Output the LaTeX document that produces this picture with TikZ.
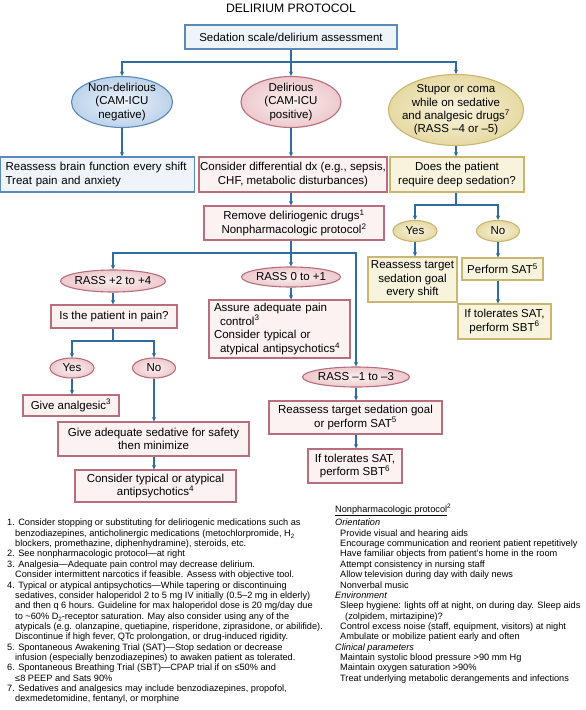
\documentclass[tikz,border=0pt]{standalone}
\usepackage{fontspec}
\setmainfont{Liberation Sans}
\usetikzlibrary{arrows.meta,shapes.geometric}
\definecolor{bdraw}{HTML}{5B89B9}
\definecolor{bfill}{HTML}{EEF4FA}
\definecolor{bellin}{HTML}{EEF4FA}
\definecolor{bellout}{HTML}{BCD2EA}
\definecolor{pdraw}{HTML}{B86E7C}
\definecolor{pfill}{HTML}{FCF2F2}
\definecolor{pellin}{HTML}{FBF0F0}
\definecolor{pellout}{HTML}{EDC9CD}
\definecolor{ydraw}{HTML}{C9B670}
\definecolor{yfill}{HTML}{F8F3DC}
\definecolor{yellin}{HTML}{F9F4DF}
\definecolor{yellout}{HTML}{E6D9A3}
\definecolor{lblue}{HTML}{2F6CA0}
\newcommand{\sups}[1]{\textsuperscript{#1}}
\newcommand{\subsc}[1]{\raisebox{-0.4ex}{\fontsize{6.2}{6.2}\selectfont #1}}
\begin{document}
\begin{tikzpicture}[x=1pt,y=-1pt,
  nodefont/.style={font=\fontsize{11.5}{13.6}\selectfont},
  boxbase/.style={rectangle, nodefont, align=center, line width=1.1pt, inner xsep=0.5pt, inner ysep=1pt},
  bbox/.style={boxbase, draw=bdraw, fill=bfill},
  pbox/.style={boxbase, draw=pdraw, fill=pfill},
  ybox/.style={boxbase, draw=ydraw, fill=yfill},
  ellbase/.style={ellipse, line width=1.1pt, inner sep=0pt},
  bell/.style={ellbase, draw=bdraw, inner color=bellin, outer color=bellout},
  pell/.style={ellbase, draw=pdraw, inner color=pellin, outer color=pellout},
  yell/.style={ellbase, draw=ydraw, inner color=yellin, outer color=yellout},
  etext/.style={align=center, inner sep=0pt, font=\fontsize{11.5}{13.4}\selectfont},
  conn/.style={draw=lblue, line width=1.2pt},
  arr/.style={conn, -{Stealth[length=4.5pt,width=4.2pt]}},
  fnote/.style={font=\fontsize{9.2}{10.36}\selectfont, align=left, inner sep=0pt},
  titlefont/.style={font=\fontsize{12.2}{14}\selectfont, inner sep=0pt}
]
\fill[white] (0,0) rectangle (586,710);
\useasboundingbox (0,0) rectangle (586,710);

% title
\node[titlefont] (title) at (291,8) {DELIRIUM PROTOCOL};

% top level
\node[bbox, minimum width=212, minimum height=24] (sed) at (291,37) {Sedation scale/delirium assessment};
\node[bell, minimum width=101, minimum height=51, label={[etext]center:{Non-delirious\\(CAM-ICU\\negative)}}] (nondel) at (122,102) {};
\node[pell, minimum width=100, minimum height=51, label={[etext]center:{Delirious\\(CAM-ICU\\positive)}}] (del) at (291,102) {};
\node[yell, minimum width=135, minimum height=71, label={[etext]center:{Stupor or coma\\while on sedative\\and analgesic drugs\sups{7}\\(RASS –4 or –5)}}] (stup) at (456,110) {};

% second level
\node[bbox, align=left, text width=184, inner xsep=5pt, minimum height=35] (rb) at (97.6,174.5) {Reassess brain function every shift\\Treat pain and anxiety};
\node[pbox, minimum width=188, minimum height=35] (diff) at (293,174.5) {Consider differential dx (e.g., sepsis,\\CHF, metabolic disturbances)};
\node[ybox, minimum width=134, minimum height=35] (does) at (457,174.5) {Does the patient\\require deep sedation?};
\node[pbox, minimum width=180, minimum height=34] (rem) at (294,223) {Remove deliriogenic drugs\sups{1}\\Nonpharmacologic protocol\sups{2}};

% RASS branches
\node[pell, minimum width=105, minimum height=22, label={[etext]center:{RASS +2 to +4}}] (r24) at (113,281) {};
\node[pell, minimum width=99, minimum height=20, label={[etext]center:{RASS 0 to +1}}] (r01) at (291,277) {};
\node[pell, minimum width=107, minimum height=20, label={[etext]center:{RASS –1 to –3}}] (r13) at (356,377) {};

\node[pbox, minimum width=126, minimum height=23] (pain) at (114,316.5) {Is the patient in pain?};
\node[pell, minimum width=44, minimum height=20, label={[etext]center:{Yes}}] (yes1) at (72,368) {};
\node[pell, minimum width=43, minimum height=20, label={[etext]center:{No}}] (no1) at (154,368) {};
\node[pbox, minimum width=96, minimum height=21] (anal) at (71,405.5) {Give analgesic\sups{3}};
\node[pbox, minimum width=191, minimum height=34] (adeq) at (153.5,439) {Give adequate sedative for safety\\then minimize};
\node[pbox, minimum width=161, minimum height=32] (ctyp) at (155.5,486) {Consider typical or atypical\\antipsychotics\sups{4}};

\node[pbox, align=left, text width=131, inner xsep=5pt, minimum height=58] (assure) at (279.5,329) {Assure adequate pain\\\hspace*{6pt}control\sups{3}\\Consider typical or\\\hspace*{6pt}atypical antipsychotics\sups{4}};
\node[pbox, minimum width=173, minimum height=33] (rsg) at (355.5,417.5) {Reassess target sedation goal\\or perform SAT\sups{5}};
\node[pbox, minimum width=94, minimum height=34] (itm) at (355,466) {If tolerates SAT,\\perform SBT\sups{6}};

% right branch
\node[yell, minimum width=44, minimum height=21, label={[etext]center:{Yes}}] (yes2) at (415,231) {};
\node[yell, minimum width=43, minimum height=21, label={[etext]center:{No}}] (no2) at (498,231) {};
\node[ybox, minimum width=89, minimum height=45] (rt) at (412.5,279.5) {Reassess target\\sedation goal\\every shift};
\node[ybox, minimum width=81, minimum height=22] (psat) at (502.5,269) {Perform SAT\sups{5}};
\node[ybox, minimum width=93, minimum height=35] (itr) at (504.5,321.5) {If tolerates SAT,\\perform SBT\sups{6}};

% junctions
\coordinate (j1) at (291,62);
\coordinate (j2) at (291,253);
\coordinate (j3) at (113,341);
\coordinate (j4) at (456,205);

% connectors
\draw[conn] (sed.south) -- (j1);
\draw[arr] (j1) -- (del.north);
\draw[arr] (j1) -| (nondel.north);
\draw[arr] (j1) -| (stup.north);
\draw[arr] (nondel.south) -- (nondel.south |- rb.north);
\draw[arr] (del.south) -- (del.south |- diff.north);
\draw[arr] (del.south |- diff.south) -- (del.south |- rem.north);
\draw[conn] (del.south |- rem.south) -- (j2);
\draw[arr] (j2) -| (r24.north);
\draw[arr] (j2) -- (r01.north);
\draw[arr] (j2) -| (r13.north);
\draw[arr] (r24.south) -- (r24.south |- pain.north);
\draw[conn] (r24.south |- pain.south) -- (j3);
\draw[arr] (j3) -| (yes1.north);
\draw[arr] (j3) -| (no1.north);
\draw[arr] (yes1.south) -- (yes1.south |- anal.north);
\draw[arr] (no1.south) -- (no1.south |- adeq.north);
\draw[arr] (no1.south |- adeq.south) -- (no1.south |- ctyp.north);
\draw[arr] (r01.south) -- (r01.south |- assure.north);
\draw[arr] (r13.south) -- (r13.south |- rsg.north);
\draw[arr] (r13.south |- rsg.south) -- (r13.south |- itm.north);
\draw[arr] (stup.south) -- (stup.south |- does.north);
\draw[conn] (stup.south |- does.south) -- (j4);
\draw[arr] (j4) -| (yes2.north);
\draw[arr] (j4) -| (no2.north);
\draw[arr] (yes2.south) -- (yes2.south |- rt.north);
\draw[arr] (no2.south) -- (no2.south |- psat.north);
\draw[arr] (no2.south |- psat.south) -- (no2.south |- itr.north);

% footnotes
\node[fnote, anchor=north west] (fnl) at (7,519) {1. Consider stopping or substituting for deliriogenic medications such as\\
\hspace*{8pt}benzodiazepines, anticholinergic medications (metochlorpromide, H\subsc{2}\\
\hspace*{8pt}blockers, promethazine, diphenhydramine), steroids, etc.\\
2. See nonpharmacologic protocol—at right\\
3. Analgesia—Adequate pain control may decrease delirium.\\
\hspace*{8pt}Consider intermittent narcotics if feasible. Assess with objective tool.\\
4. Typical or atypical antipsychotics—While tapering or discontinuing\\
\hspace*{8pt}sedatives, consider haloperidol 2 to 5 mg IV initially (0.5–2 mg in elderly)\\
\hspace*{8pt}and then q 6 hours. Guideline for max haloperidol dose is 20 mg/day due\\
\hspace*{8pt}to \textasciitilde 60\% D\subsc{2}-receptor saturation. May also consider using any of the\\
\hspace*{8pt}atypicals (e.g. olanzapine, quetiapine, risperidone, ziprasidone, or abilifide).\\
\hspace*{8pt}Discontinue if high fever, QTc prolongation, or drug-induced rigidity.\\
5. Spontaneous Awakening Trial (SAT)—Stop sedation or decrease\\
\hspace*{8pt}infusion (especially benzodiazepines) to awaken patient as tolerated.\\
6. Spontaneous Breathing Trial (SBT)—CPAP trial if on ≤50\% and\\
\hspace*{8pt}≤8 PEEP and Sats 90\%\\
7. Sedatives and analgesics may include benzodiazepines, propofol,\\
\hspace*{8pt}dexmedetomidine, fentanyl, or morphine};

\node[fnote, anchor=west] (nph) at (335,510) {\underline{Nonpharmacologic protocol}\sups{2}};
\node[fnote, anchor=north west] (fnr) at (335,519) {\textit{Orientation}\\
\hspace*{5pt}Provide visual and hearing aids\\
\hspace*{5pt}Encourage communication and reorient patient repetitively\\
\hspace*{5pt}Have familiar objects from patient’s home in the room\\
\hspace*{5pt}Attempt consistency in nursing staff\\
\hspace*{5pt}Allow television during day with daily news\\
\hspace*{5pt}Nonverbal music\\
\textit{Environment}\\
\hspace*{5pt}Sleep hygiene: lights off at night, on during day. Sleep aids\\
\hspace*{10pt}(zolpidem, mirtazipine)?\\
\hspace*{5pt}Control excess noise (staff, equipment, visitors) at night\\
\hspace*{5pt}Ambulate or mobilize patient early and often\\
\textit{Clinical parameters}\\
\hspace*{5pt}Maintain systolic blood pressure >90 mm Hg\\
\hspace*{5pt}Maintain oxygen saturation >90\%\\
\hspace*{5pt}Treat underlying metabolic derangements and infections};
\end{tikzpicture}
\end{document}
